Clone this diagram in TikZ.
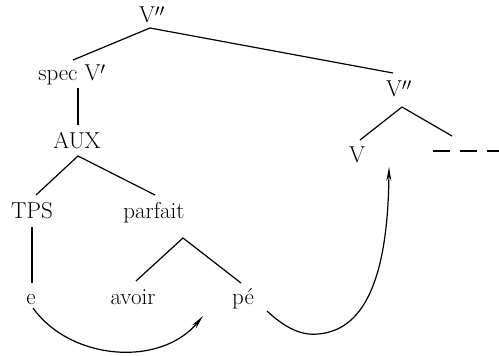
\documentclass[tikz,border=0pt]{standalone}
\usetikzlibrary{arrows.meta}
\newcommand{\myprimes}[1]{\raisebox{-0.35ex}{$#1$}}
\begin{document}
\begin{tikzpicture}[x=1pt,y=-1pt,
  lbl/.style={font=\fontsize{23}{25}\selectfont, inner sep=0pt, anchor=base},
  branch/.style={line width=1.2pt},
  mv/.style={line width=1.2pt, -{Stealth[length=14pt,width=5pt]}}]
\useasboundingbox (0,0) rectangle (499,356);
% labels
\node[lbl] (vtop) at (152,22) {V\myprimes{''}};
\node[lbl] (spec) at (72,80) {spec V\myprimes{'}};
\node[lbl] (aux) at (77,148) {AUX};
\node[lbl] (tps) at (32,218) {TPS};
\node[lbl] (parf) at (154,218) {parfait};
\node[lbl] (e) at (31,304) {e};
\node[lbl] (avoir) at (133,304) {avoir};
\node[lbl] (pe) at (243,304) {pé};
\node[lbl] (vtwo) at (399,96) {V\myprimes{''}};
\node[lbl] (v) at (357,162) {V};
% branch points
\coordinate (a1) at (150,28);
\coordinate (a1l) at (73,60);
\coordinate (a1r) at (393,73);
\coordinate (s1) at (78,88);
\coordinate (s2) at (78,125);
\coordinate (a2) at (78,156);
\coordinate (a2l) at (36,195);
\coordinate (a2r) at (155,195);
\coordinate (t1) at (32,227);
\coordinate (t2) at (32,283);
\coordinate (a3) at (183,238);
\coordinate (a3l) at (136,281);
\coordinate (a3r) at (241,283);
\coordinate (a4) at (402,107);
\coordinate (a4l) at (360,140);
\coordinate (a4r) at (452,136);
\coordinate (d1) at (433,151);
\coordinate (d2) at (499,151);
% movement endpoints
\coordinate (m1s) at (33,308);
\coordinate (m1e) at (203,316);
\coordinate (m2s) at (267,311);
\coordinate (m2b) at (318,334);
\coordinate (m2e) at (389,167);
% tree
\draw[branch] (a1l) -- (a1) -- (a1r);
\draw[branch] (s1) -- (s2);
\draw[branch] (a2l) -- (a2) -- (a2r);
\draw[branch] (t1) -- (t2);
\draw[branch] (a3l) -- (a3) -- (a3r);
\draw[branch] (a4l) -- (a4) -- (a4r);
\draw[branch, dash pattern=on 17pt off 10pt] (d1) -- (d2);
% movement arrows
\draw[mv] (m1s) .. controls (70,360) and (160,368) .. (m1e);
\draw[mv] (m2s) .. controls (283,326) and (300,336) .. (m2b)
   .. controls (370,330) and (388,265) .. (m2e);
\end{tikzpicture}
\end{document}
